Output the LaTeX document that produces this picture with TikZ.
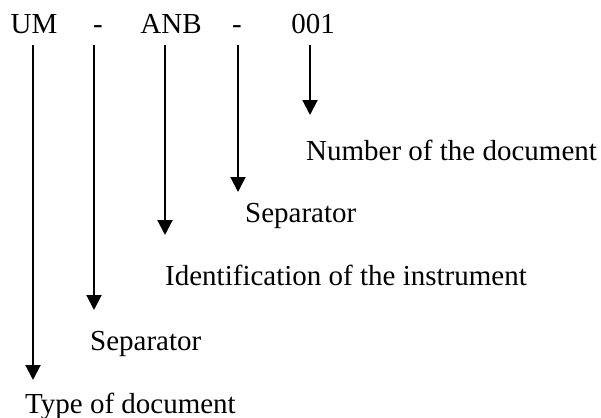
\documentclass[tikz,border=0pt]{standalone}
\usepackage{fontspec}
\setmainfont{Liberation Serif}
\usetikzlibrary{arrows.meta}
\begin{document}
\begin{tikzpicture}[x=1pt,y=-1pt,
  code/.style={inner sep=0pt,anchor=base,font=\fontsize{29}{34}\selectfont},
  lbl/.style={inner sep=0pt,anchor=base west,font=\fontsize{29}{34}\selectfont},
  arr/.style={line width=2pt,-{Triangle[width=15pt,length=15pt]}}]
\useasboundingbox (0,0) rectangle (601,417);
% the code parts
\node[code] (um)   at (34,34)  {UM};
\node[code] (sepa) at (98,34)  {-};
\node[code] (anb)  at (171,34) {ANB};
\node[code] (sepb) at (237,34) {-};
\node[code] (num)  at (313,34) {001};
% explanations
\node[lbl] (lnum)  at (306,160) {Number of the document};
\node[lbl] (lsepb) at (245,222) {Separator};
\node[lbl] (lanb)  at (165,285) {Identification of the instrument};
\node[lbl] (lsepa) at (90,350)  {Separator};
\node[lbl] (lum)   at (25,413)  {Type of document};
% arrow start and end points
\coordinate (sUM) at (33,45);   \coordinate (tUM) at (33,380);
\coordinate (sSA) at (94,45);   \coordinate (tSA) at (94,310);
\coordinate (sAN) at (165,45);  \coordinate (tAN) at (165,235);
\coordinate (sSB) at (238,45);  \coordinate (tSB) at (238,192);
\coordinate (sNU) at (310,45);  \coordinate (tNU) at (310,115);
\draw[arr] (sUM) -- (tUM);
\draw[arr] (sSA) -- (tSA);
\draw[arr] (sAN) -- (tAN);
\draw[arr] (sSB) -- (tSB);
\draw[arr] (sNU) -- (tNU);
\end{tikzpicture}
\end{document}
